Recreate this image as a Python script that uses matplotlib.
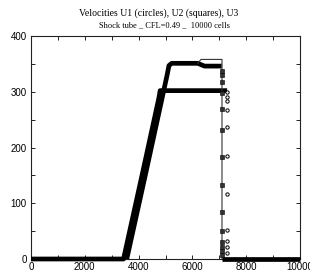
import matplotlib
matplotlib.use("Agg")
import matplotlib.pyplot as plt
from matplotlib.ticker import MultipleLocator

# ---- data ----
# U1 (circles): profile knots (cell index, velocity)
u1_x = [0, 3440, 4150, 4760, 4800, 7290]
u1_v = [0, 0, 155, 290, 302, 302]
# U1 scattered shock points
u1_shock_x = [7295] * 11
u1_shock_v = [300, 290, 283, 267, 236, 185, 117, 52, 32, 22, 10]

# U2 (squares): profile knots
u2_x = [3560, 4270, 5060, 5130, 5230, 6200, 6450, 7090]
u2_v = [0, 155, 330, 347, 351, 351, 346, 346]
# U2 scattered shock points
u2_shock_x = [7100] * 14
u2_shock_v = [338, 330, 318, 298, 269, 231, 183, 133, 84, 50, 30, 22, 15, 8]

# region right of the shock, at rest
rest_x = [7100, 10000]
rest_v = [0, 0]

# U3 (line)
u3_x = [6200, 6320, 7100, 7100]
u3_v = [351, 358, 358, 0]

title = "Velocities U1 (circles), U2 (squares), U3"
subtitle = "Shock tube _ CFL=0.49 _  10000 cells"
x_ticks = [0, 2000, 4000, 6000, 8000, 10000]
y_ticks = [0, 100, 200, 300, 400]

# ---- figure ----
fig = plt.figure(figsize=(3.10, 2.73), dpi=100)
ax = fig.add_axes([31 / 310, 14 / 273, 269 / 310, 223 / 273])

band = dict(color="black", lw=3.4, solid_capstyle="butt", solid_joinstyle="round",
            clip_on=False, zorder=3)
ax.plot(u1_x, u1_v, **band)
ax.plot(u2_x, u2_v, **band)
ax.plot(rest_x, rest_v, **band)
ax.plot(u3_x, u3_v, color="#333333", lw=0.8, zorder=4)

ax.plot(u1_shock_x, u1_shock_v, linestyle="none", marker="o", ms=2.4,
        mfc="white", mec="black", mew=0.7, zorder=5)
ax.plot(u2_shock_x, u2_shock_v, linestyle="none", marker="s", ms=2.2,
        mfc="#333333", mec="black", mew=0.4, zorder=5)

ax.set_xlim(0, 10000)
ax.set_ylim(0, 400)
ax.set_xticks(x_ticks)
ax.set_yticks(y_ticks)
ax.xaxis.set_minor_locator(MultipleLocator(1000))
ax.yaxis.set_minor_locator(MultipleLocator(50))
ax.tick_params(which="both", direction="in", top=True, right=True,
               width=0.6, colors="black", labelsize=7)
ax.tick_params(which="major", length=3)
ax.tick_params(which="minor", length=3)
ax.tick_params(axis="x", pad=2)
ax.tick_params(axis="y", pad=3)
for lab in ax.get_xticklabels() + ax.get_yticklabels():
    lab.set_family("Liberation Sans")
for s in ax.spines.values():
    s.set_linewidth(0.8)
    s.set_color("#222222")

fig.text(159 / 310, 1 - 13.5 / 273, title, ha="center", va="center",
         family="Liberation Serif", fontsize=7)
fig.text(164.5 / 310, 1 - 25.5 / 273, subtitle, ha="center", va="center",
         family="Liberation Serif", fontsize=6)

fig.savefig("out.png", dpi=100)
